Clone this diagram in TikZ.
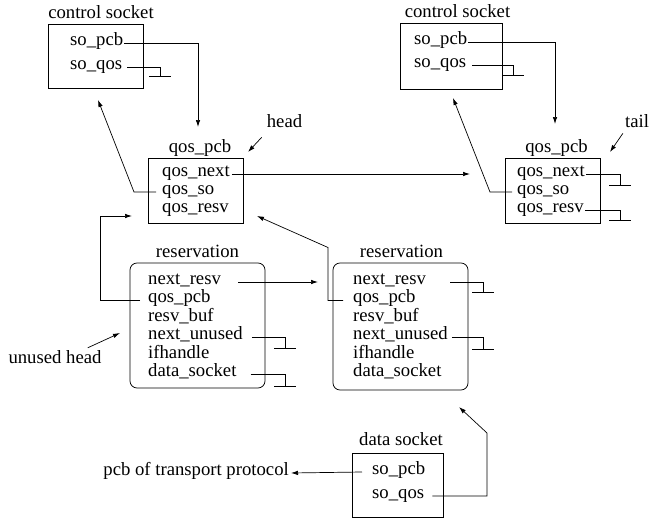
\documentclass[tikz,border=0pt]{standalone}
\usepackage{fontspec}
\setmainfont{Liberation Serif}
\usetikzlibrary{arrows.meta}
\begin{document}
\begin{tikzpicture}[x=1pt,y=-1pt,
 every node/.style={font=\fontsize{18.7pt}{19pt}\selectfont},
 box/.style={draw,line width=0.75pt,inner sep=0pt},
 rbox/.style={box,rounded corners=7pt},
 fld/.style={anchor=mid west,inner sep=0pt},
 ttl/.style={anchor=base,inner sep=0pt},
 lnk/.style={line width=0.7pt},
 arr/.style={lnk,-{Latex[length=7pt,width=4.5pt]}},
 gnd/.style={line width=0.9pt}]
\useasboundingbox (0,0) rectangle (651,519);

% ---------- boxes ----------
\node[box,minimum width=95pt,minimum height=64pt] (lctrl) at (95.5,56) {};
\node[box,minimum width=102pt,minimum height=66pt] (rctrl) at (451,56) {};
\node[box,minimum width=95pt,minimum height=65pt] (lqos) at (195.5,190.5) {};
\node[box,minimum width=95pt,minimum height=65pt] (rqos) at (552.5,190.5) {};
\node[rbox,minimum width=135pt,minimum height=125pt] (lres) at (197.5,325.5) {};
\node[rbox,minimum width=135pt,minimum height=127pt] (rres) at (400.5,326.5) {};
\node[box,minimum width=91pt,minimum height=64pt] (dsock) at (397.5,485) {};

% ---------- titles and labels ----------
\node[ttl] (lctrlt) at (101,19) {control socket};
\node[ttl] (rctrlt) at (457.5,18) {control socket};
\node[ttl] (lqost) at (200,152.5) {qos\_pcb};
\node[ttl] (rqost) at (556.5,152.5) {qos\_pcb};
\node[ttl] (head) at (284.5,127) {head};
\node[ttl] (tail) at (637,127) {tail};
\node[ttl] (lrest) at (197.5,257) {reservation};
\node[ttl] (rrest) at (401.5,257) {reservation};
\node[ttl] (dsockt) at (401,445) {data socket};
\node[ttl] (uh) at (55,363) {unused head};
\node[anchor=mid east,inner sep=0pt] (ptp) at (289,473) {pcb of transport protocol};

% ---------- fields ----------
\node[fld] (lsopcb) at (70,43) {so\_pcb};
\node[fld] (lsoqos) at (70,67) {so\_qos};
\node[fld] (rsopcb) at (414,42) {so\_pcb};
\node[fld] (rsoqos) at (414,65) {so\_qos};

\node[fld] (lqnext) at (162,174) {qos\_next};
\node[fld] (lqso) at (162,192) {qos\_so};
\node[fld] (lqresv) at (162,210) {qos\_resv};
\node[fld] (rqnext) at (517,174) {qos\_next};
\node[fld] (rqso) at (517,192) {qos\_so};
\node[fld] (rqresv) at (517,210) {qos\_resv};

\node[fld] (lrnext) at (148,282) {next\_resv};
\node[fld] (lrqos) at (148,300.5) {qos\_pcb};
\node[fld] (lrbuf) at (148,319) {resv\_buf};
\node[fld] (lrunused) at (148,337.5) {next\_unused};
\node[fld] (lrif) at (148,356) {ifhandle};
\node[fld] (lrdata) at (148,374.5) {data\_socket};

\node[fld] (rrnext) at (353,282) {next\_resv};
\node[fld] (rrqos) at (353,300.5) {qos\_pcb};
\node[fld] (rrbuf) at (353,319) {resv\_buf};
\node[fld] (rrunused) at (353,337.5) {next\_unused};
\node[fld] (rrif) at (353,356) {ifhandle};
\node[fld] (rrdata) at (353,374.5) {data\_socket};

\node[fld] (dsopcb) at (372,472) {so\_pcb};
\node[fld] (dsoqos) at (372,496) {so\_qos};

% ---------- coordinates ----------
\coordinate (t1) at (198,127);
\coordinate (t2) at (98,100);
\coordinate (t3) at (470,174);
\coordinate (t4) at (555,124);
\coordinate (t5) at (453,98);
\coordinate (t6) at (248,152);
\coordinate (t7) at (132,216);
\coordinate (t8) at (318,282);
\coordinate (t9) at (257,216);
\coordinate (t10) at (459,407);
\coordinate (t11) at (610,152);
\coordinate (t12) at (120,333);
\coordinate (b1) at (487,433);
\coordinate (g1) at (160,76);
\coordinate (g2) at (513,75);
\coordinate (g3) at (620,185);
\coordinate (g4) at (620,220);
\coordinate (g5) at (285,348);
\coordinate (g6) at (285,386);
\coordinate (g7) at (483,292);
\coordinate (g8) at (483,349);

% ---------- connectors ----------
\draw[arr] ([xshift=1pt]lsopcb.mid east) -| (t1);
\draw[lnk] ([xshift=5pt]lsoqos.mid east) -| (g1);
\draw[arr] ([xshift=-6pt]lqso.mid west) -- ++(-22,0) -- (t2);
\draw[arr] ([xshift=2pt]lqnext.mid east) -- (t3);
\draw[arr] ([xshift=1pt]rsopcb.mid east) -| (t4);
\draw[lnk] ([xshift=6pt]rsoqos.mid east) -| (g2);
\draw[arr] ([xshift=-5pt]rqso.mid west) -- ++(-22,0) -- (t5);
\draw[lnk] ([xshift=1pt]rqnext.mid east) -| (g3);
\draw[lnk] ([xshift=1pt]rqresv.mid east) -| (g4);
\draw[arr] ([xshift=-5pt,yshift=-10pt]head.south west) -- (t6);
\draw[arr] ([xshift=-2pt,yshift=-6pt]tail.south west) -- (t11);
\draw[arr] ([xshift=-8pt]lrqos.mid west) -- ++(-40,0) |- (t7);
\draw[arr] ([xshift=17pt]lrnext.mid east) -- (t8);
\draw[lnk] ([xshift=9pt]lrunused.mid east) -| (g5);
\draw[lnk] ([xshift=14pt]lrdata.mid east) -| (g6);
\draw[lnk] ([xshift=24pt]rrnext.mid east) -| (g7);
\draw[lnk] ([xshift=4pt]rrunused.mid east) -| (g8);
\draw[arr] ([xshift=-10pt]rrqos.mid west) -- ++(-15,0) -- ++(0,-53) -- (t9);
\draw[arr] ([xshift=-14pt,yshift=2pt]uh.north east) -- (t12);
\draw[arr] ([xshift=-10pt]dsopcb.mid west) -- ([xshift=2pt]ptp.mid east);
\draw[arr] ([xshift=8pt]dsoqos.mid east) -| (b1) -- (t10);

% ---------- ground symbols ----------
\foreach \g in {g1,g2,g3,g4,g5,g6,g7,g8}
  \draw[gnd] ([xshift=-11pt]\g) -- ([xshift=11pt]\g);
\end{tikzpicture}
\end{document}
